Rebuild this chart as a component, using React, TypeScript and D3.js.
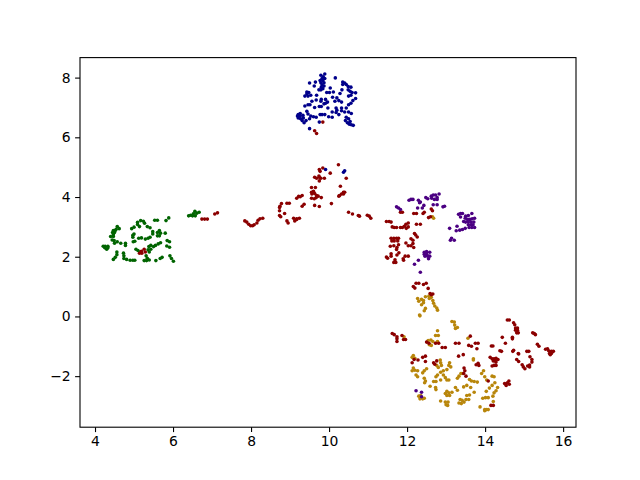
import React, { useEffect, useRef } from "react";
import * as d3 from "d3";

type P = [number, number];

const greenPoints: P[] = [[4.21,2.35],[4.26,2.35],[4.33,2.35],[4.25,2.30],[4.30,2.25],[4.33,2.30],[4.57,3.01],[4.62,2.94],[4.54,2.92],[4.47,2.88],[4.52,2.88],[4.45,2.81],[4.50,2.81],[4.47,2.74],[4.40,2.68],[4.47,2.68],[4.44,2.56],[4.49,2.54],[4.50,2.45],[4.57,2.50],[4.66,2.45],[4.78,2.45],[4.78,2.38],[4.56,2.16],[4.56,2.07],[4.52,1.98],[4.47,1.91],[4.73,2.12],[4.74,2.03],[4.74,1.94],[4.81,1.91],[4.90,1.88],[4.97,1.88],[5.02,1.88],[4.94,2.94],[5.00,2.99],[5.09,3.15],[5.09,3.08],[5.14,3.01],[5.17,3.21],[5.24,3.19],[5.27,3.12],[5.34,3.01],[5.41,2.97],[5.53,3.22],[5.60,3.22],[5.82,3.21],[5.89,3.30],[4.97,2.72],[5.00,2.76],[4.97,2.65],[5.12,2.62],[5.19,2.63],[5.29,2.59],[5.36,2.62],[5.41,2.65],[5.48,2.84],[5.48,2.76],[5.60,2.70],[5.65,2.70],[5.60,2.81],[5.65,2.88],[5.68,2.79],[5.80,2.79],[4.98,2.50],[5.02,2.52],[5.05,2.25],[5.10,2.21],[5.38,2.34],[5.43,2.38],[5.50,2.34],[5.55,2.38],[5.62,2.43],[5.68,2.47],[5.36,2.23],[5.43,2.25],[5.39,2.16],[5.31,2.03],[5.34,1.95],[5.26,1.87],[5.32,1.87],[5.39,1.89],[5.56,1.87],[5.67,1.94],[5.72,1.98],[5.85,2.54],[5.91,2.50],[5.84,2.36],[5.91,2.32],[5.92,2.03],[5.96,1.94],[6.01,1.85],[6.40,3.37],[6.45,3.39],[6.50,3.37],[6.56,3.52],[6.52,3.44],[6.61,3.46],[6.67,3.49],[6.57,3.37]];

const bluePoints: P[] = [[9.89,8.12],[9.79,8.08],[9.85,8.03],[9.82,7.97],[9.89,7.97],[9.77,7.90],[9.84,7.90],[9.79,7.83],[9.87,7.83],[9.82,7.76],[9.87,7.72],[9.80,7.68],[9.84,7.63],[9.74,7.59],[9.79,7.59],[10.16,7.99],[9.65,7.85],[9.50,7.82],[9.62,7.72],[10.35,7.85],[10.40,7.82],[10.35,7.77],[10.44,7.77],[10.49,7.70],[10.56,7.68],[10.33,7.59],[10.49,7.59],[10.54,7.54],[10.59,7.50],[10.68,7.49],[10.56,7.41],[10.50,7.38],[10.68,7.30],[10.61,7.23],[10.56,7.14],[10.50,7.09],[10.44,6.98],[10.03,7.65],[9.94,7.50],[10.01,7.50],[10.11,7.52],[10.28,7.47],[10.20,7.32],[10.09,7.34],[10.15,7.21],[10.25,7.23],[10.32,7.18],[9.43,7.52],[9.48,7.50],[9.43,7.45],[9.46,7.38],[9.38,7.38],[9.53,7.41],[9.68,7.41],[9.56,7.21],[9.67,7.25],[9.80,7.27],[9.91,7.27],[9.79,7.21],[9.91,7.14],[9.87,7.12],[9.38,7.05],[9.46,7.09],[9.51,7.09],[9.63,7.00],[9.75,7.03],[9.80,7.03],[9.97,6.98],[9.96,7.18],[10.08,6.85],[10.18,6.98],[10.20,6.91],[10.18,6.83],[10.32,6.98],[10.32,6.89],[10.25,6.76],[10.40,6.85],[10.50,6.85],[10.57,6.80],[9.21,6.76],[9.26,6.80],[9.19,6.71],[9.26,6.71],[9.33,6.74],[9.21,6.65],[9.27,6.62],[9.34,6.65],[9.31,6.56],[9.36,6.49],[9.41,6.56],[9.46,6.78],[9.43,6.87],[9.53,6.71],[9.60,6.69],[9.50,6.62],[9.77,6.76],[9.82,6.76],[9.89,6.76],[9.67,6.67],[9.99,6.69],[10.08,6.67],[9.75,6.51],[10.44,6.67],[10.50,6.62],[10.42,6.56],[10.47,6.49],[10.52,6.44],[10.57,6.42],[10.62,6.40],[10.54,6.53],[9.50,6.29],[9.91,4.92],[10.37,4.83],[10.40,4.88]];

const purplePoints: P[] = [[12.05,3.89],[12.10,3.92],[12.15,3.92],[12.29,3.89],[12.34,3.83],[12.32,3.81],[12.48,3.98],[12.53,3.94],[12.62,4.03],[12.67,4.07],[12.73,4.07],[12.82,4.10],[12.63,3.96],[12.70,3.92],[12.77,3.98],[12.77,3.92],[12.67,3.74],[12.77,3.74],[12.92,3.67],[12.96,3.69],[12.27,3.63],[12.39,3.63],[12.43,3.72],[11.73,3.67],[11.78,3.63],[11.83,3.58],[13.32,3.42],[13.37,3.45],[13.42,3.45],[13.37,3.33],[13.50,3.36],[13.57,3.38],[13.66,3.45],[13.49,3.29],[13.55,3.25],[13.61,3.25],[13.67,3.27],[13.73,3.29],[13.45,3.18],[13.50,3.16],[13.57,3.16],[13.64,3.16],[13.71,3.16],[13.57,3.07],[13.64,3.07],[13.69,3.07],[13.59,2.98],[13.66,2.98],[13.73,2.98],[13.49,2.95],[13.42,2.91],[13.35,2.89],[13.26,2.87],[13.28,3.02],[13.09,2.95],[13.14,2.62],[13.11,2.55],[13.21,2.55],[12.44,2.15],[12.50,2.17],[12.58,2.15],[12.44,2.08],[12.50,2.08],[12.46,2.02],[12.53,2.02],[12.58,2.02],[12.55,1.93],[12.29,1.88],[12.19,1.75],[12.34,1.48],[12.23,-2.49],[12.37,-2.54],[12.37,-2.69]];

const goldPoints: P[] = [[12.65,3.34],[12.68,3.29],[12.47,0.66],[12.27,0.60],[12.30,0.51],[12.37,0.57],[12.42,0.53],[12.42,0.46],[12.37,0.39],[12.56,0.68],[12.62,0.64],[12.57,0.60],[12.66,0.53],[12.68,0.44],[12.71,0.35],[12.76,0.28],[12.78,0.21],[12.47,0.27],[12.44,0.19],[12.33,0.02],[12.32,0.05],[13.15,-0.17],[13.21,-0.19],[13.22,-0.29],[13.24,-0.40],[13.29,-0.37],[12.78,-0.48],[12.73,-0.64],[12.80,-0.64],[11.92,-0.68],[13.56,-0.73],[12.54,-0.81],[12.61,-0.79],[12.66,-0.84],[12.57,-0.95],[12.62,-0.97],[12.78,-0.84],[12.16,-1.31],[12.13,-1.37],[12.20,-1.40],[12.16,-1.73],[12.13,-1.82],[12.20,-1.80],[12.27,-1.82],[12.23,-1.96],[12.27,-2.02],[12.44,-1.82],[12.40,-1.89],[12.50,-1.75],[12.44,-2.07],[12.47,-2.16],[12.45,-2.22],[12.68,-2.18],[12.74,-2.18],[12.59,-2.34],[12.73,-2.38],[12.74,-2.45],[12.85,-1.46],[12.86,-1.55],[12.76,-1.64],[12.88,-1.64],[12.80,-1.71],[13.09,-1.55],[13.07,-1.64],[13.12,-1.69],[13.02,-1.78],[12.93,-1.82],[12.86,-1.87],[12.78,-1.96],[12.74,-2.02],[12.86,-2.13],[12.93,-1.96],[12.98,-2.05],[13.02,-2.13],[13.07,-2.13],[13.70,-1.42],[13.70,-1.46],[13.38,-1.91],[13.33,-2.00],[13.29,-2.07],[13.41,-1.91],[13.24,-2.38],[13.29,-2.47],[13.02,-2.51],[12.98,-2.58],[13.07,-2.56],[13.15,-2.54],[13.02,-2.65],[13.09,-2.65],[12.86,-2.83],[12.98,-2.87],[13.05,-2.87],[13.00,-2.96],[13.04,-2.98],[13.36,-2.78],[13.41,-2.81],[13.33,-2.90],[13.39,-2.92],[13.46,-2.87],[13.60,-2.11],[13.65,-2.16],[13.72,-2.18],[13.80,-2.20],[13.45,-2.36],[13.53,-2.31],[13.63,-2.38],[13.72,-2.54],[13.53,-2.65],[13.60,-2.63],[13.51,-2.78],[13.58,-2.78],[13.96,-1.82],[13.91,-1.91],[13.99,-2.02],[14.04,-2.13],[14.18,-2.00],[14.23,-2.02],[14.25,-2.22],[14.18,-2.31],[14.11,-2.40],[14.03,-2.51],[14.32,-2.38],[14.28,-2.49],[14.23,-2.56],[14.20,-2.67],[13.94,-2.74],[14.01,-2.72],[14.08,-2.72],[13.87,-3.03],[13.99,-3.12],[14.08,-3.12],[13.99,-3.16],[14.21,-2.85],[12.30,-2.67],[12.33,-2.76],[12.44,-2.74],[12.35,-2.65],[12.40,-2.76],[14.03,-3.12]];

const redPoints: P[] = [[6.74,3.26],[6.81,3.26],[6.88,3.26],[7.07,3.43],[7.14,3.47],[5.14,2.12],[5.19,2.18],[5.26,2.25],[5.20,2.12],[5.29,2.16],[5.15,2.16],[9.84,6.51],[9.63,6.22],[9.68,6.13],[7.84,3.20],[7.89,3.16],[7.94,3.09],[7.99,3.04],[8.04,3.04],[8.08,3.07],[8.15,3.13],[8.18,3.22],[8.23,3.27],[8.30,3.29],[8.73,3.38],[8.76,3.34],[8.73,3.54],[8.86,3.45],[8.92,3.20],[8.95,3.13],[9.09,3.29],[9.17,3.27],[9.24,3.29],[9.12,3.20],[9.17,3.25],[8.74,3.69],[8.78,3.78],[8.73,3.65],[8.92,3.79],[8.98,3.79],[9.17,3.96],[9.22,4.02],[9.26,4.01],[9.31,4.05],[9.31,3.69],[9.36,3.76],[9.55,4.32],[9.65,4.32],[9.55,4.16],[9.60,4.19],[9.56,4.10],[9.63,4.12],[9.68,4.05],[9.72,4.03],[9.55,3.96],[9.62,3.94],[9.67,3.98],[9.80,3.98],[9.63,3.72],[9.75,3.68],[10.06,3.78],[10.29,4.36],[10.27,4.05],[10.32,4.10],[10.37,4.16],[10.40,4.16],[10.37,4.10],[10.25,4.03],[9.75,4.92],[9.84,4.97],[9.77,4.86],[9.63,4.66],[9.68,4.63],[9.74,4.70],[9.75,4.66],[9.79,4.63],[9.75,4.54],[9.88,4.63],[10.03,4.80],[10.24,5.08],[10.44,4.63],[10.50,3.49],[10.60,3.43],[10.75,3.38],[10.78,3.36],[10.98,3.39],[11.03,3.36],[11.07,3.29],[11.83,3.49],[11.88,3.49],[12.17,3.45],[12.24,3.45],[12.41,3.45],[12.44,3.49],[12.62,3.60],[12.65,3.54],[12.55,3.31],[12.60,3.34],[11.47,3.18],[11.54,3.18],[11.59,3.16],[11.62,3.00],[11.67,2.98],[11.73,2.98],[11.83,2.98],[11.88,2.98],[11.97,3.09],[12.03,3.13],[11.93,3.02],[11.98,2.95],[12.03,3.00],[12.24,3.09],[12.34,3.09],[12.19,2.78],[12.22,2.73],[12.26,2.66],[12.10,2.60],[12.15,2.55],[11.59,2.62],[11.66,2.62],[11.73,2.62],[11.78,2.62],[11.61,2.53],[11.67,2.53],[11.76,2.53],[11.57,2.35],[11.66,2.37],[11.78,2.40],[11.74,2.31],[11.73,2.24],[11.97,2.46],[12.03,2.37],[12.10,2.37],[12.15,2.44],[12.17,2.31],[11.47,1.99],[11.50,1.95],[11.59,2.10],[11.59,2.02],[11.74,2.06],[11.79,2.13],[11.69,1.90],[11.66,1.81],[11.71,1.81],[11.90,1.93],[11.91,1.88],[11.95,2.02],[12.03,2.02],[12.23,1.11],[12.30,1.11],[12.42,1.07],[12.49,1.11],[12.16,1.00],[12.20,0.95],[12.54,0.94],[12.59,0.77],[12.66,0.75],[12.62,0.73],[11.62,-0.57],[11.67,-0.61],[11.87,-0.64],[11.74,-0.68],[11.74,-0.75],[11.74,-0.84],[11.91,-0.77],[11.96,-0.77],[13.62,-0.66],[13.58,-0.97],[13.65,-1.00],[13.79,-1.08],[13.75,-0.90],[13.82,-0.90],[13.24,-0.90],[13.33,-0.90],[12.90,-1.04],[12.98,-1.04],[12.50,-0.86],[12.56,-0.90],[12.73,-0.90],[12.81,-0.90],[12.18,-1.44],[12.13,-1.55],[12.28,-1.46],[12.40,-1.37],[12.47,-1.33],[12.47,-1.51],[12.68,-1.55],[12.71,-1.60],[12.76,-1.49],[13.32,-1.33],[13.44,-1.28],[13.46,-1.73],[13.48,-1.82],[13.45,-1.91],[13.51,-2.00],[14.08,-2.16],[14.15,-2.98],[14.21,-2.98],[14.57,-0.12],[14.62,-0.12],[14.73,-0.21],[14.76,-0.28],[14.78,-0.39],[14.83,-0.39],[14.78,-0.46],[14.83,-0.46],[14.81,-0.55],[14.85,-0.55],[15.22,-0.55],[15.26,-0.57],[15.29,-0.61],[14.44,-0.70],[14.70,-0.70],[14.70,-0.75],[14.52,-0.90],[15.34,-0.93],[15.38,-1.00],[14.16,-0.99],[14.20,-0.99],[14.38,-1.15],[14.42,-1.17],[14.71,-1.17],[14.73,-1.13],[14.85,-1.24],[14.86,-1.26],[15.07,-1.17],[15.12,-1.17],[15.60,-1.08],[15.55,-1.10],[15.63,-1.15],[15.70,-1.17],[15.75,-1.17],[15.65,-1.24],[15.70,-1.24],[15.67,-1.28],[15.15,-1.35],[15.20,-1.44],[15.20,-1.53],[14.81,-1.44],[14.86,-1.51],[14.95,-1.62],[14.98,-1.69],[15.02,-1.75],[15.09,-1.66],[15.14,-1.63],[15.14,-1.69],[14.13,-1.37],[14.18,-1.42],[14.23,-1.42],[14.28,-1.40],[14.33,-1.44],[14.21,-1.49],[14.26,-1.49],[14.28,-1.53],[14.18,-1.66],[14.23,-1.64],[14.28,-1.64],[13.77,-1.62],[13.82,-1.57],[13.84,-1.64],[14.50,-2.25],[14.57,-2.22],[14.61,-2.16],[14.62,-2.27],[14.54,-2.31]];

const xTicks = [4, 6, 8, 10, 12, 14, 16];
const yTicks = [-2, 0, 2, 4, 6, 8];
const xDomain: P = [3.615, 16.33];
const yDomain: P = [-3.71, 8.67];
const layers: { pts: P[]; color: string }[] = [
  { pts: goldPoints, color: "#b8860b" },
  { pts: redPoints, color: "#8b0000" },
  { pts: greenPoints, color: "#006400" },
  { pts: bluePoints, color: "#00008b" },
  { pts: purplePoints, color: "#4b0082" },
];

const W = 640, H = 480;
const L = 80, R = 576, T = 57.6, B = 427.2;

export default function App() {
  const ref = useRef<SVGSVGElement>(null);
  useEffect(() => {
    const svg = d3.select(ref.current!);
    svg.selectAll("*").remove();
    const x = d3.scaleLinear().domain(xDomain).range([L, R]);
    const y = d3.scaleLinear().domain(yDomain).range([B, T]);
    layers.forEach((l) => {
      svg.append("g").attr("fill", l.color).selectAll("circle").data(l.pts).join("circle")
        .attr("cx", (d) => x(d[0])).attr("cy", (d) => y(d[1])).attr("r", 1.8);
    });
    const fmt = (d: d3.NumberValue) => String(+d).replace("-", "\u2212");
    const gx = svg.append("g").attr("transform", `translate(0,${B})`)
      .call(d3.axisBottom(x).tickValues(xTicks).tickFormat(fmt).tickSize(4.9).tickPadding(4.5).tickSizeOuter(0));
    const gy = svg.append("g").attr("transform", `translate(${L},0)`)
      .call(d3.axisLeft(y).tickValues(yTicks).tickFormat(fmt).tickSize(4.9).tickPadding(4.5).tickSizeOuter(0));
    [gx, gy].forEach((g) => {
      g.select(".domain").remove();
      g.selectAll("line").attr("stroke", "#000").attr("stroke-width", 1.1);
      g.selectAll("text").attr("fill", "#000").attr("font-family", "DejaVu Sans").attr("font-size", 13.9);
    });
    svg.append("rect").attr("x", L).attr("y", T).attr("width", R - L).attr("height", B - T)
      .attr("fill", "none").attr("stroke", "#000").attr("stroke-width", 1.1);
  }, []);
  return <svg ref={ref} width={W} height={H} style={{ position: "absolute", left: 0, top: 0, background: "#fff" }} />;
}
